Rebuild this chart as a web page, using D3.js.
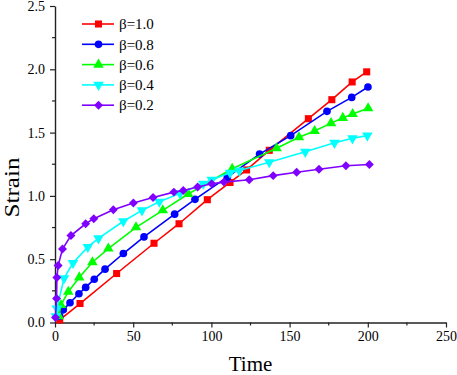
<!DOCTYPE html>
<html>
<head>
<meta charset="utf-8">
<script src="https://cdn.jsdelivr.net/npm/d3@7"></script>
<style>
  body { margin: 0; background: #fff; }
  svg { display: block; }
  svg text { font-family: 'Liberation Serif', 'Times New Roman', serif; }
</style>
</head>
<body>
<svg width="457" height="375"></svg>
<script>
// series data: [time, strain]
const beta10 = [[3,0.02],[16,0.15],[39.4,0.387],[63.3,0.626],[79.3,0.78],[97.4,0.97],[111.9,1.106],
  [122.5,1.205],[137,1.36],[162,1.61],[177,1.76],[190,1.9],[199.3,1.98]]
const beta08 = [[3,0.05],[5.3,0.1],[9.6,0.156],[15.3,0.227],[19.6,0.277],[25.1,0.342],[32,0.421],
  [43.7,0.545],[56.9,0.676],[76.5,0.856],[89.5,0.973],[110.2,1.148],[130.8,1.33],[150.7,1.476],
  [173.9,1.668],[189.7,1.778],[200.1,1.86]]
const beta06 = [[2.5,0.05],[3.8,0.138],[8.5,0.243],[15.5,0.356],[23.9,0.476],[34.1,0.584],[51.8,0.752],
  [68.9,0.886],[85.2,1.015],[113.3,1.214],[141.7,1.376],[156,1.463],[166,1.512],[176.5,1.575],
  [184,1.616],[190.3,1.647],[200.2,1.692]]
const beta04 = [[0.5,0.05],[1.2,0.11],[5.8,0.35],[11.5,0.47],[21,0.597],[27.8,0.665],[43.7,0.8],
  [55.6,0.886],[66.7,0.954],[79.9,1.02],[94.8,1.096],[100.2,1.127],[111.9,1.183],[117.8,1.2],
  [137,1.266],[160,1.348],[178.7,1.419],[190.2,1.455],[199.7,1.476]]
const beta02 = [[0.3,0.04],[1,0.19],[1.2,0.355],[2,0.45],[4.8,0.58],[10.2,0.687],[19.6,0.78],
  [24.8,0.82],[37.3,0.891],[50.1,0.944],[62.7,0.988],[76,1.03],[82,1.043],[91.2,1.07],[100.2,1.096],
  [108,1.109],[124.2,1.127],[139.5,1.16],[154.5,1.187],[168.8,1.211],[186,1.238],[201,1.248]]

const labels = ['β=1.0', 'β=0.8', 'β=0.6', 'β=0.4', 'β=0.2']
const xTicks = [0, 50, 100, 150, 200, 250]
const yTicks = [0, 0.5, 1.0, 1.5, 2.0, 2.5]

const seriesData = [beta10, beta08, beta06, beta04, beta02]
const colors = ['#ff0000', '#0000ff', '#00ff00', '#00ffff', '#8000ff']
// symbol, size, rotation
const markers = [
  [d3.symbolSquare, 50, 0],
  [d3.symbolCircle, 46, 0],
  [d3.symbolTriangle, 48, 0],
  [d3.symbolTriangle, 48, 180],
  [d3.symbolSquare, 40, 45],
]

const svg = d3.select('svg')

const x = d3.scaleLinear().domain([0, 250]).range([55, 446])
const y = d3.scaleLinear().domain([0, 2.5]).range([322.5, 6])

// axes
const xAxis = svg.append('g').attr('transform', `translate(0,${y(0)})`)
xAxis.call(d3.axisBottom(x).tickValues(xTicks).tickSize(5).tickSizeOuter(0).tickPadding(4))
xAxis.append('g').selectAll('line')
  .data(d3.range(25, 250, 50))
  .join('line')
  .attr('x1', d => x(d)).attr('x2', d => x(d))
  .attr('y1', 0).attr('y2', 3)

const yAxis = svg.append('g').attr('transform', `translate(${x(0)},0)`)
yAxis.call(d3.axisLeft(y).tickValues(yTicks).tickFormat(d3.format('.1f')).tickSize(5).tickSizeOuter(0).tickPadding(5))
yAxis.append('g').selectAll('line')
  .data(d3.range(0.25, 2.5, 0.5))
  .join('line')
  .attr('y1', d => y(d)).attr('y2', d => y(d))
  .attr('x1', 0).attr('x2', -3)

svg.selectAll('.domain').attr('stroke', '#222').attr('stroke-width', 1.4)
svg.selectAll('line').attr('stroke', '#222').attr('stroke-width', 1.2)
svg.selectAll('g').attr('font-family', null)
svg.selectAll('.tick text')
  .attr('font-size', 14)
  .attr('fill', '#000')

// axis titles
svg.append('text')
  .attr('x', (x(0) + x(250)) / 2)
  .attr('y', 371)
  .attr('text-anchor', 'middle')
  .attr('font-size', 21)
  .text('Time')

svg.append('text')
  .attr('transform', 'translate(19,187.5) rotate(-90)')
  .attr('text-anchor', 'middle')
  .attr('font-size', 21)
  .attr('textLength', 60)
  .attr('lengthAdjust', 'spacingAndGlyphs')
  .text('Strain')

// series
const line = d3.line().x(d => x(d[0])).y(d => y(d[1]))

seriesData.forEach((data, i) => {
  const g = svg.append('g')
  g.append('path')
    .attr('d', line(data))
    .attr('fill', 'none')
    .attr('stroke', colors[i])
    .attr('stroke-width', 1.6)
  const sym = d3.symbol().type(markers[i][0]).size(markers[i][1])
  g.selectAll('path.m')
    .data(data)
    .join('path')
    .attr('class', 'm')
    .attr('d', sym)
    .attr('transform', d => `translate(${x(d[0])},${y(d[1])}) rotate(${markers[i][2]})`)
    .attr('fill', colors[i])
})

// legend
const legend = svg.append('g')
labels.forEach((lab, i) => {
  const ly = 24 + i * 20.3
  legend.append('line')
    .attr('x1', 82).attr('x2', 114)
    .attr('y1', ly).attr('y2', ly)
    .attr('stroke', colors[i])
    .attr('stroke-width', 1.6)
  legend.append('path')
    .attr('d', d3.symbol().type(markers[i][0]).size(markers[i][1])())
    .attr('transform', `translate(98.5,${ly}) rotate(${markers[i][2]})`)
    .attr('fill', colors[i])
  legend.append('text')
    .attr('x', 119)
    .attr('y', ly)
    .attr('dy', '0.35em')
    .attr('font-size', 15)
    .text(lab)
})
</script>
</body>
</html>
